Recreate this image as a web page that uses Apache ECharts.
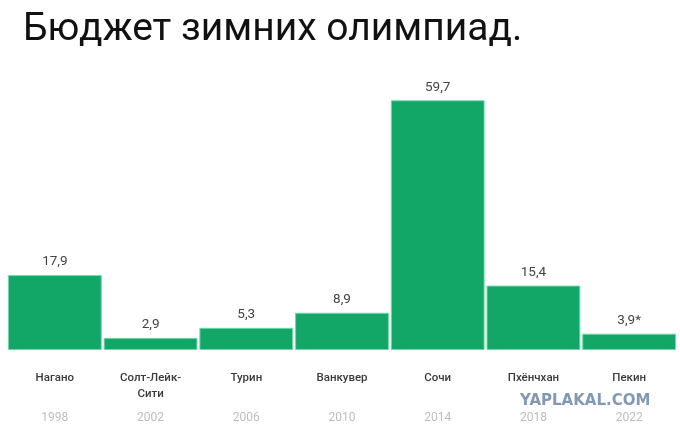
<!DOCTYPE html>
<html><head><meta charset="utf-8">
<script src="https://cdn.jsdelivr.net/npm/echarts@6/dist/echarts.min.js"></script>
<style>html,body{margin:0;padding:0;background:#fff}#c{width:680px;height:432px}</style>
</head><body><div id="c"></div>
<script>
const titleText = 'Бюджет зимних олимпиад.';
const cities = ['Нагано', 'Солт-Лейк-\nСити', 'Турин', 'Ванкувер', 'Сочи', 'Пхёнчхан', 'Пекин'];
const years = ['1998', '2002', '2006', '2010', '2014', '2018', '2022'];
const budgets = [17.9, 2.9, 5.3, 8.9, 59.7, 15.4, 3.9];
const budgetLabels = ['17,9', '2,9', '5,3', '8,9', '59,7', '15,4', '3,9*'];

const chart = echarts.init(document.getElementById('c'));
chart.setOption({
  animation: false,
  backgroundColor: '#fff',
  textStyle: { fontFamily: 'Roboto' },
  title: {
    text: titleText, left: 18, top: 6,
    textStyle: { fontFamily: 'Roboto', fontSize: 39, fontWeight: 'normal', color: '#111' }
  },
  graphic: [{
    type: 'text', left: 520, top: 394,
    style: { text: 'YAPLAKAL.COM', fontFamily: 'DejaVu Sans', fontWeight: 'bold', fontSize: 15, fill: '#8299b6' }
  }],
  grid: { left: 7, right: 3, top: 99, bottom: 82 },
  xAxis: [{
    type: 'category', data: cities,
    axisLine: { show: false }, axisTick: { show: false },
    axisLabel: { color: '#3a3a3a', fontSize: 11.5, fontWeight: 500, margin: 20, lineHeight: 16, interval: 0 }
  }, {
    type: 'category', data: years, position: 'bottom', offset: 62,
    axisLine: { show: false }, axisTick: { show: false },
    axisLabel: { color: '#bdbdbd', fontSize: 12, margin: 0, interval: 0 }
  }],
  yAxis: { type: 'value', min: 0, max: 60, show: false, splitLine: { show: false } },
  series: [{
    type: 'bar', data: budgets, barCategoryGap: '2%',
    itemStyle: { color: '#12a767', borderColor: '#6fd9a6', borderWidth: 1 },
    label: {
      show: true, position: 'top', distance: 6, color: '#444', fontSize: 13.5,
      formatter: p => budgetLabels[p.dataIndex]
    }
  }]
});
</script></body></html>
